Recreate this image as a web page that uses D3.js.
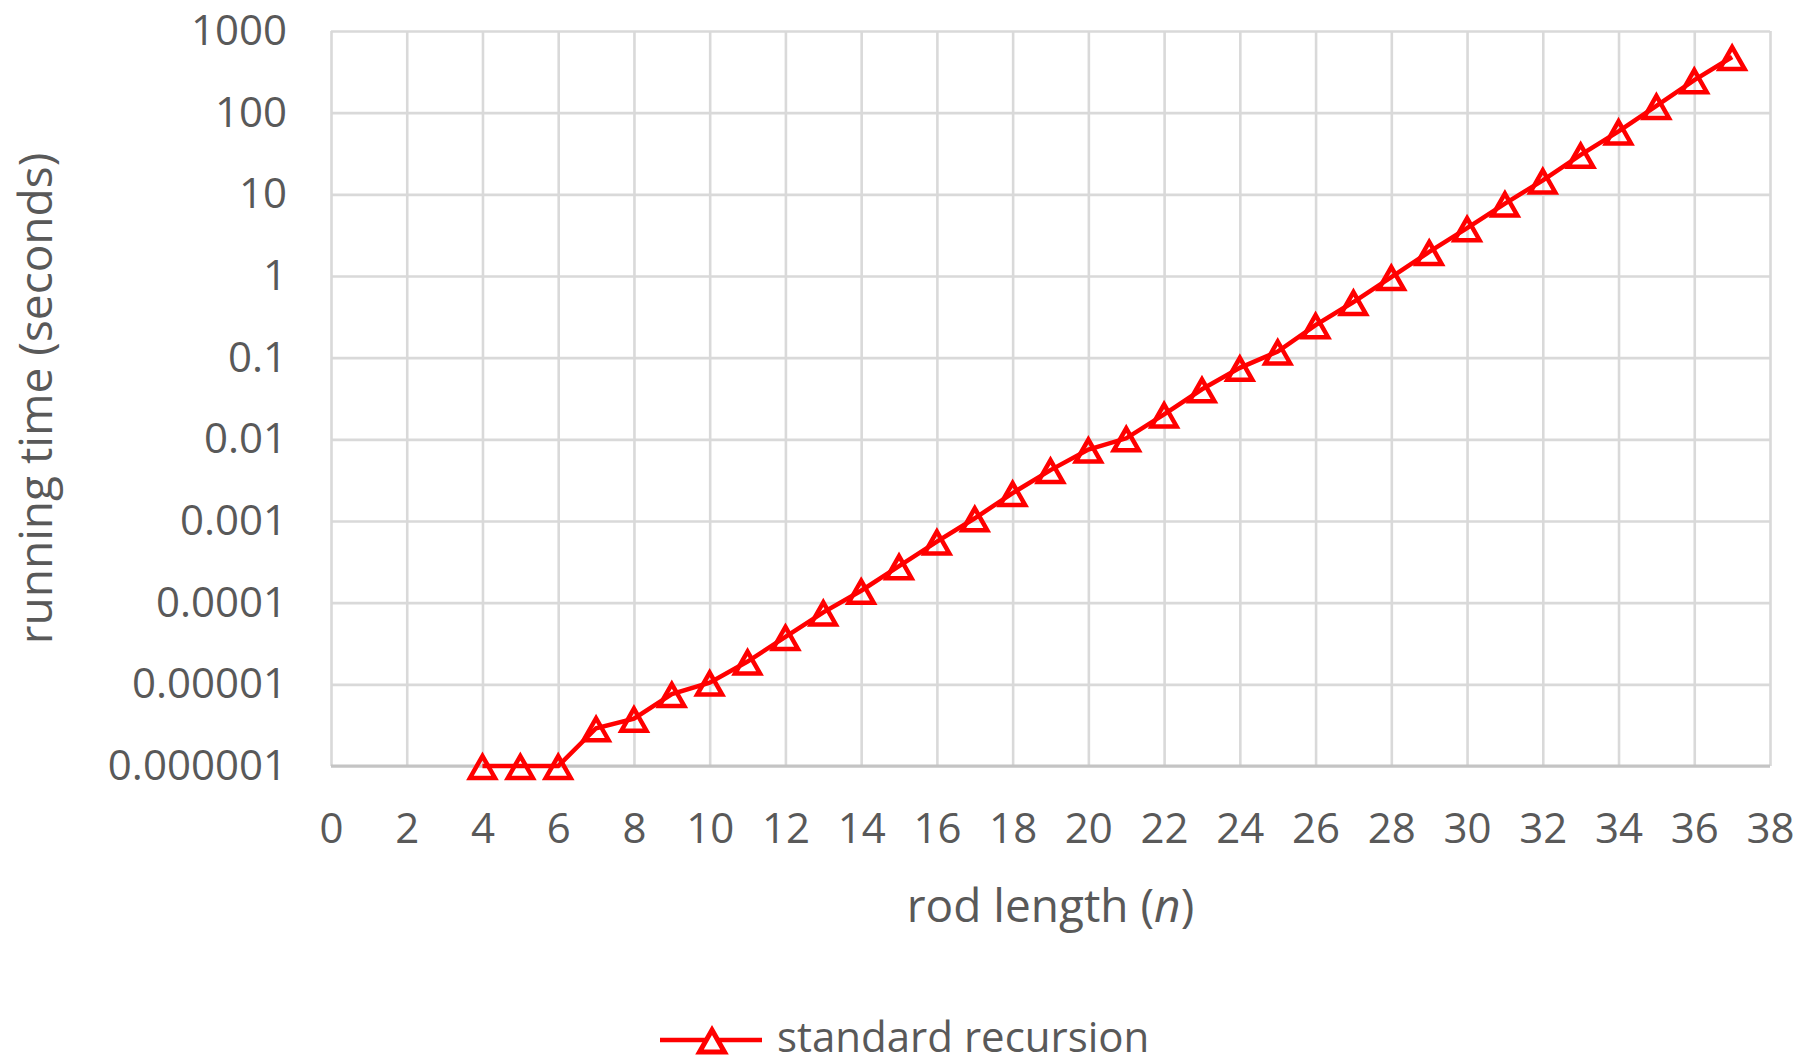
<!DOCTYPE html>
<html>
  <head>
    <meta charset="utf-8">
    <title>running time of standard recursion</title>
    <style type="text/css">
     html, body {
       margin: 0;
       padding: 0;
       background: #fff;
     }
     svg {
       display: block;
       font-family: "Open Sans", sans-serif;
     }
     .grid line {
       stroke: #d9d9d9;
       stroke-width: 2.6px;
     }
     .grid .domain {
       display: none;
     }
     .tick text, .legend-label {
       fill: #595959;
       font-family: "Open Sans", sans-serif;
       font-size: 42px;
     }
     .title {
       fill: #595959;
       font-size: 46px;
     }
     .series path {
       fill: none;
       stroke: #ff0000;
       stroke-width: 4.5px;
     }
     .marker {
       fill: #fff;
       stroke: #ff0000;
       stroke-width: 5px;
     }
    </style>
  </head>
  <body>
    <svg width="1810" height="1064"></svg>
    <script src="https://cdn.jsdelivr.net/npm/d3@7"></script>
    <script>
     // rod length n and measured running time in seconds
     var rodLength = [4, 5, 6, 7, 8, 9, 10, 11, 12, 13, 14, 15, 16, 17, 18, 19, 20,
                      21, 22, 23, 24, 25, 26, 27, 28, 29, 30, 31, 32, 33, 34, 35, 36, 37];
     var runningTime = [1e-6, 1e-6, 1e-6, 2.9e-6, 3.8e-6, 7.6e-6, 1.05e-5, 1.9e-5,
                        3.8e-5, 7.6e-5, 1.4e-4, 2.8e-4, 5.6e-4, 1.08e-3, 2.2e-3, 4.2e-3,
                        7.5e-3, 0.0103, 0.0202, 0.041, 0.075, 0.119, 0.25, 0.48, 0.97,
                        1.97, 3.85, 7.7, 14.8, 30.5, 59, 121, 250, 480];

     var xTicks = [0, 2, 4, 6, 8, 10, 12, 14, 16, 18, 20, 22, 24, 26, 28, 30, 32, 34, 36, 38];
     var yTicks = [1e-6, 1e-5, 1e-4, 1e-3, 1e-2, 1e-1, 1, 10, 100, 1000];
     var yTickLabels = ["0.000001", "0.00001", "0.0001", "0.001", "0.01",
                        "0.1", "1", "10", "100", "1000"];
     var seriesName = "standard recursion";

     var svg = d3.select("svg"),
         plotLeft = 331, plotRight = 1770, plotTop = 31, plotBottom = 766,
         width = plotRight - plotLeft,
         height = plotBottom - plotTop;

     var x = d3.scaleLinear().domain([0, 38]).range([0, width]);
     var y = d3.scaleLog().domain([1e-6, 1000]).range([height, 0]);

     var g = svg.append("g")
                .attr("transform", "translate(" + plotLeft + "," + plotTop + ")");

     g.append("g")
      .attr("class", "grid")
      .call(d3.axisLeft(y)
              .tickValues(yTicks)
              .tickSize(-width)
              .tickPadding(44)
              .tickFormat(function(d, i) { return yTickLabels[i]; }));

     g.append("g")
      .attr("class", "grid")
      .attr("transform", "translate(0," + height + ")")
      .call(d3.axisBottom(x)
              .tickValues(xTicks)
              .tickSize(-height)
              .tickPadding(47)
              .tickFormat(d3.format("d")));

     // bottom edge a little darker, like the category axis line
     g.append("line")
      .attr("x1", 0).attr("x2", width)
      .attr("y1", height).attr("y2", height)
      .attr("stroke", "#c4c4c4")
      .attr("stroke-width", 3);

     var points = rodLength.map(function(n, i) { return [n, runningTime[i]]; });

     var line = d3.line()
                  .x(function(d) { return x(d[0]); })
                  .y(function(d) { return y(d[1]); });

     var series = g.append("g").attr("class", "series");
     series.append("path").attr("d", line(points));

     var tri = "M0,-10L12.5,12L-12.5,12Z";
     series.selectAll(".marker")
           .data(points)
           .enter().append("path")
           .attr("class", "marker")
           .attr("d", tri)
           .attr("transform", function(d) {
             return "translate(" + x(d[0]) + "," + y(d[1]) + ")";
           });

     // axis titles
     svg.append("text")
        .attr("class", "title")
        .attr("text-anchor", "middle")
        .attr("transform", "translate(52," + (plotTop + height / 2) + ") rotate(-90)")
        .text("running time (seconds)");

     var xt = svg.append("text")
                 .attr("class", "title")
                 .attr("text-anchor", "middle")
                 .attr("x", plotLeft + width / 2)
                 .attr("y", 922);
     xt.append("tspan").text("rod length (");
     xt.append("tspan").attr("font-style", "italic").text("n");
     xt.append("tspan").text(")");

     // legend
     var legend = svg.append("g").attr("transform", "translate(660,1040)");
     legend.append("line")
           .attr("x1", 0).attr("x2", 102)
           .attr("stroke", "#ff0000")
           .attr("stroke-width", 4.5);
     legend.append("path")
           .attr("class", "marker")
           .attr("d", tri)
           .attr("transform", "translate(52,0)");
     legend.append("text")
           .attr("class", "legend-label")
           .attr("x", 117)
           .attr("y", 12)
           .text(seriesName);
    </script>
  </body>
</html>
